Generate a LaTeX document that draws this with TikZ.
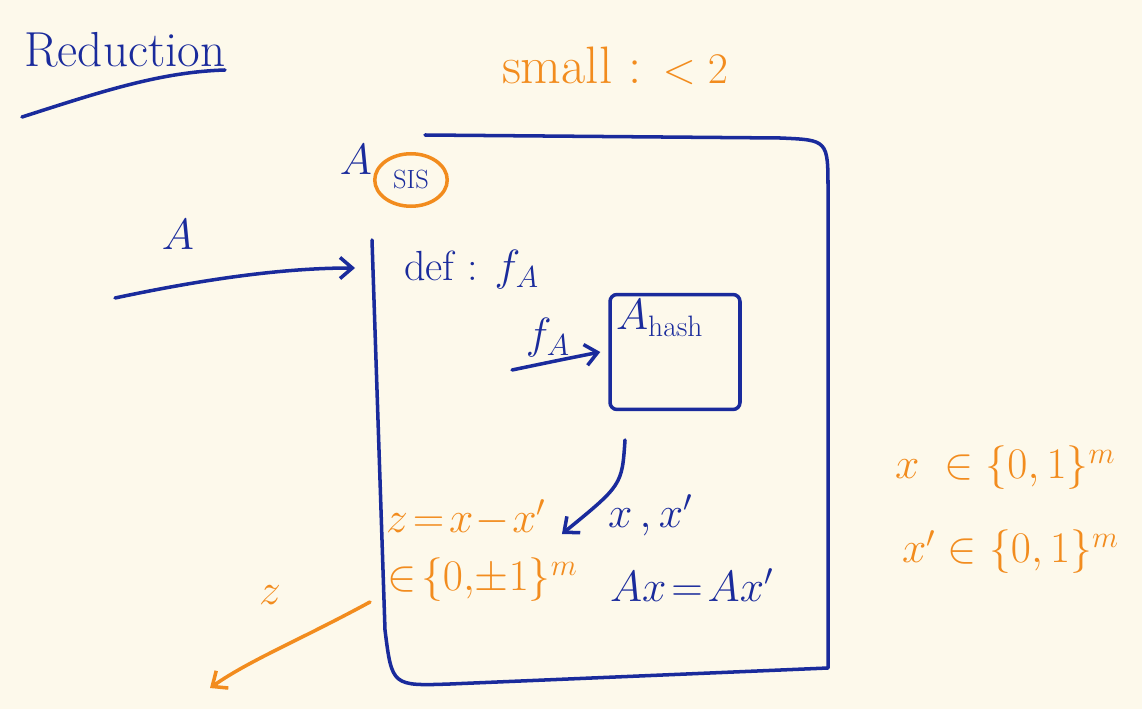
\documentclass[tikz,border=0pt]{standalone}
\usepackage{amsmath}
\usepackage{amssymb}
\usepackage{xcolor}
\usetikzlibrary{positioning,calc,arrows.meta,shapes.geometric}
\definecolor{ink}{HTML}{1A2B9C}
\definecolor{orng}{HTML}{F28C1E}
\definecolor{paper}{HTML}{FDF9EB}
\begin{document}
\begin{tikzpicture}[x=0.02cm,y=-0.02cm,
	pen/.style={line width=2pt, line cap=round, line join=round},
	bluepen/.style={pen, ink},
	orangepen/.style={pen, orng},
	hand/.style={inner sep=1pt, font=\fontsize{24}{28}\selectfont},
	tip/.style={-{Straight Barb[length=7pt,width=12pt,line width=2pt]}}]
	\fill[paper] (0,0) rectangle (1142,709);
	\useasboundingbox (0,0) rectangle (1142,709);
	% title
	\node[hand, ink, font=\fontsize{28}{32}\selectfont] (title) at (125,50) {Reduction};
	\draw[bluepen] (22,117) .. controls (100,92) and (160,72) .. (225,70);
	\node[hand, orng, font=\fontsize{30}{34}\selectfont] (small) at (615,66) {small : $<2$};
	% outer box (the reduction)
	\draw[bluepen] (425,135) -- (780,138) .. controls (828,140) .. (828,190) -- (828,668)
		-- (450,684) .. controls (392,686) .. (385,630) -- (372,240);
	\node[hand, ink, font=\fontsize{34}{38}\selectfont] (Asis) at (356,160) {$A$};
	\node[ellipse, draw=orng, line width=2pt, inner sep=1pt, text=ink, minimum width=1.45cm,
		minimum height=1.05cm, font=\fontsize{15}{18}\selectfont] (sis) at (411,180) {SIS};
	% input
	\node[hand, ink, font=\fontsize{30}{34}\selectfont] (A) at (178,235) {$A$};
	\coordinate (inA) at (115,298);
	\coordinate (boxin) at (355,268);
	\draw[bluepen, tip] (inA) .. controls (200,280) and (280,268) .. (boxin);
	\node[hand, ink, anchor=west] (def) at (402,270) {def : $f_A$};
	% inner box
	\node[draw=ink, line width=2pt, minimum width=2.6cm, minimum height=2.3cm,
		rounded corners=4pt] (hash) at (675,352) {};
	\node[hand, ink, anchor=north west] (hashlbl) at (614,298) {$A_{\text{hash}}$};
	\node[hand, ink] (fA) at (548,338) {$f_A$};
	\coordinate (fin) at (512,370);
	\draw[bluepen, tip] (fin) .. controls (560,360) .. ([shift={(-8,0)}]hash.west);
	% output
	\node[hand, orng, anchor=west] (zdef) at (384,518) {$z\!=\!x\!-\!x'$};
	\node[hand, orng, anchor=west] (zset) at (385,580) {$\in\!\{0,\!\pm1\}^m$};
	\node[hand, ink, anchor=west] (xx) at (606,515) {$x\,,x'$};
	\node[hand, ink, anchor=west] (Ax) at (608,585) {$Ax\!=\!Ax'$};
	\coordinate (hashout) at (625,440);
	\draw[bluepen, tip] (hashout) .. controls (622,485) .. ([shift={(14,16)}]zdef.east);
	% side notes
	\node[hand, orng, anchor=west] (x1) at (893,468) {$x\ \in\{0,1\}^m$};
	\node[hand, orng, anchor=west] (x2) at (900,552) {$x'\in\{0,1\}^m$};
	\node[hand, orng] (zout) at (270,595) {$z$};
	\coordinate (zstart) at (370,602);
	\coordinate (zend) at (210,688);
	\draw[orangepen, tip] (zstart) .. controls (300,640) and (250,660) .. (zend);
\end{tikzpicture}
\end{document}
